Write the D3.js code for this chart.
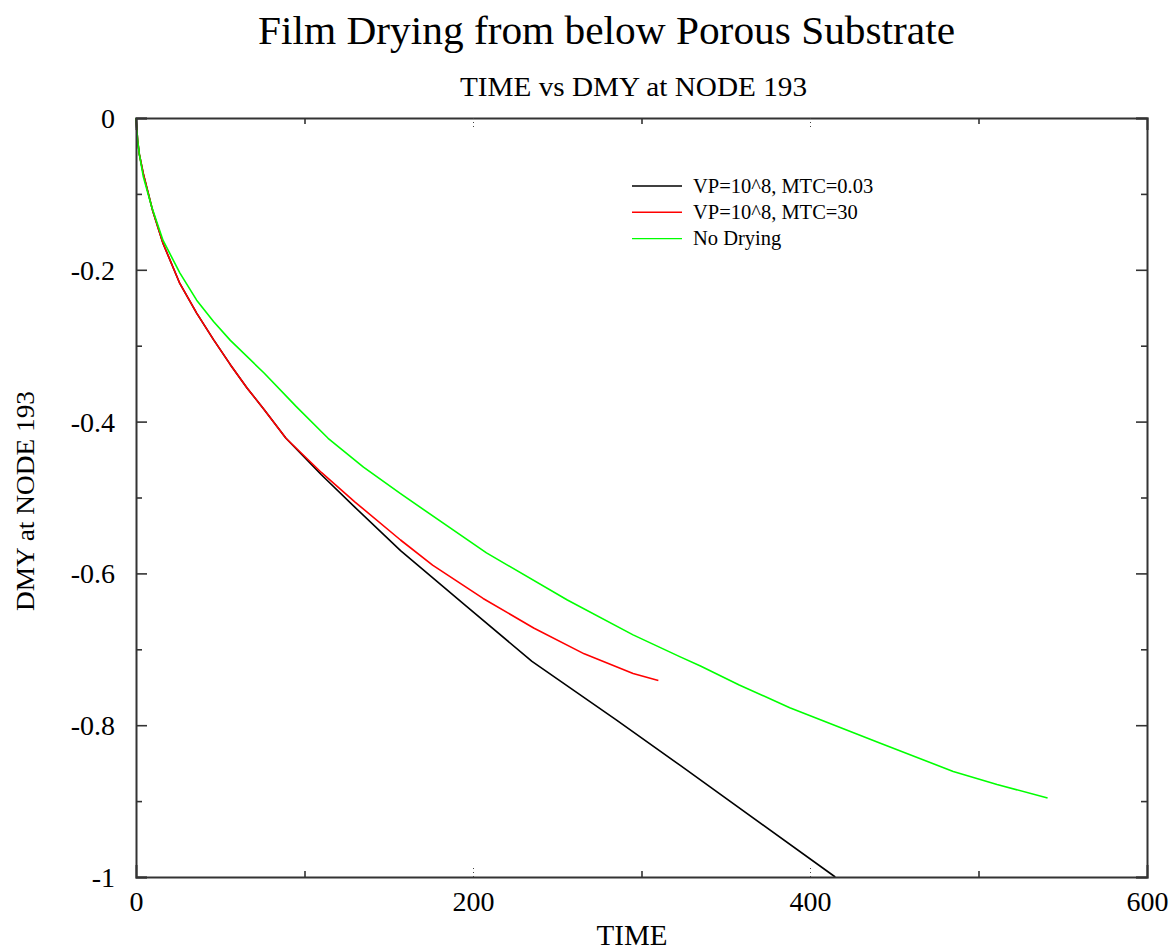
<!DOCTYPE html>
<html>
<head>
<meta charset="utf-8">
<script src="https://cdn.jsdelivr.net/npm/d3@7"></script>
<style>
  html, body { margin: 0; padding: 0; background: #fff; }
  svg { display: block; }
  text { font-family: "Liberation Serif", "Times New Roman", serif; fill: #000; }
</style>
</head>
<body>
<svg id="chart" width="1172" height="950"></svg>
<script>
// Time series of DMY at node 193 for three drying cases
const timeA = [0, 1, 2, 4.3, 10, 16, 26, 36, 46, 56, 66, 76, 89, 110, 130, 157, 196, 235, 285, 323, 415];
const dmyA  = [0, -0.03, -0.048, -0.073, -0.123, -0.165, -0.218, -0.257, -0.292, -0.325, -0.356, -0.384, -0.422, -0.470, -0.513, -0.570, -0.643, -0.716, -0.793, -0.853, -1.0];

const timeB = [0, 1, 2, 4.3, 10, 16, 26, 36, 46, 56, 66, 76, 89, 110, 130, 157, 176, 206, 236, 266, 295, 310];
const dmyB  = [0, -0.03, -0.048, -0.073, -0.123, -0.165, -0.218, -0.257, -0.292, -0.325, -0.356, -0.384, -0.422, -0.467, -0.506, -0.556, -0.589, -0.633, -0.672, -0.706, -0.732, -0.741];

const timeC = [0, 1, 2, 4.3, 9.3, 16, 26, 36, 46, 56, 76, 95, 114, 135, 157, 208, 256, 295, 323, 335, 358, 388, 441, 485, 511, 541];
const dmyC  = [0, -0.03, -0.048, -0.077, -0.117, -0.161, -0.204, -0.240, -0.268, -0.293, -0.336, -0.380, -0.422, -0.460, -0.495, -0.573, -0.635, -0.681, -0.710, -0.722, -0.747, -0.777, -0.823, -0.861, -0.878, -0.896];

const seriesNames  = ["VP=10^8, MTC=0.03", "VP=10^8, MTC=30", "No Drying"];
const seriesColors = ["#000000", "#ff0000", "#00ff00"];

const xMajorTicks  = [0, 200, 400, 600];
const xTickLabels  = ["0", "200", "400", "600"];
const xMinorTicks  = [100, 300, 500];
const yMajorTicks  = [0, -0.2, -0.4, -0.6, -0.8, -1];
const yTickLabels  = ["0", "-0.2", "-0.4", "-0.6", "-0.8", "-1"];
const yMinorTicks  = [-0.1, -0.3, -0.5, -0.7, -0.9];

const series = [
  { name: seriesNames[0], color: seriesColors[0], pts: timeA.map((t, i) => [t, dmyA[i]]) },
  { name: seriesNames[1], color: seriesColors[1], pts: timeB.map((t, i) => [t, dmyB[i]]) },
  { name: seriesNames[2], color: seriesColors[2], pts: timeC.map((t, i) => [t, dmyC[i]]) }
];

const svg = d3.select("#chart");
const plotLeft = 136, plotRight = 1147, plotTop = 118, plotBottom = 877;

const x = d3.scaleLinear().domain([0, 600]).range([plotLeft, plotRight]);
const y = d3.scaleLinear().domain([-1, 0]).range([plotBottom, plotTop]);

const axisColor = "#333";
const fontStack = "Liberation Serif, Times New Roman, serif";

// Titles
svg.append("text")
  .attr("x", 258).attr("y", 44)
  .attr("font-size", 40)
  .attr("textLength", 697).attr("lengthAdjust", "spacingAndGlyphs")
  .text("Film Drying from below Porous Substrate");

svg.append("text")
  .attr("x", 460).attr("y", 96)
  .attr("font-size", 27)
  .attr("textLength", 347).attr("lengthAdjust", "spacingAndGlyphs")
  .text("TIME vs DMY at NODE 193");

// Curves
const line = d3.line().x(d => x(d[0])).y(d => y(d[1]));
const plot = svg.append("g");
series.forEach(s => {
  plot.append("path")
    .datum(s.pts)
    .attr("d", line)
    .attr("fill", "none")
    .attr("stroke", s.color)
    .attr("stroke-width", 1.6)
    .attr("stroke-linejoin", "round");
});

// Axes
function styleAxis(g) {
  g.select(".domain").attr("stroke", axisColor).attr("stroke-width", 2);
  g.selectAll(".tick line").attr("stroke", axisColor).attr("stroke-width", 1.6);
  g.selectAll(".tick text").attr("fill", "#000").attr("font-size", 28)
    .attr("font-family", fontStack);
}

// left: labelled major ticks, inward
svg.append("g").attr("transform", `translate(${plotLeft},0)`)
  .call(d3.axisLeft(y).tickValues(yMajorTicks).tickSize(-11).tickPadding(21)
    .tickFormat((d, i) => yTickLabels[i]))
  .call(styleAxis)
  .call(g => g.selectAll(".tick text").attr("dy", "0.34em"));
svg.append("g").attr("transform", `translate(${plotLeft},0)`)
  .call(d3.axisLeft(y).tickValues(yMinorTicks).tickSize(-6).tickFormat(""))
  .call(styleAxis).call(g => g.select(".domain").remove());

// right
svg.append("g").attr("transform", `translate(${plotRight},0)`)
  .call(d3.axisRight(y).tickValues(yMajorTicks).tickSize(-11).tickFormat(""))
  .call(styleAxis);
svg.append("g").attr("transform", `translate(${plotRight},0)`)
  .call(d3.axisRight(y).tickValues(yMinorTicks).tickSize(-6).tickFormat(""))
  .call(styleAxis).call(g => g.select(".domain").remove());

// bottom: labelled, major ticks dotted
svg.append("g").attr("transform", `translate(0,${plotBottom})`)
  .call(d3.axisBottom(x).tickValues(xMajorTicks).tickSize(-12).tickPadding(14)
    .tickFormat((d, i) => xTickLabels[i]))
  .call(styleAxis)
  .call(g => g.selectAll(".tick text").attr("dy", "0.71em"))
  .call(g => g.selectAll(".tick line")
    .attr("stroke", d => (d === 0 || d === 600) ? "none" : "#444")
    .attr("stroke-width", 1)
    .attr("stroke-dasharray", "1,3"));
svg.append("g").attr("transform", `translate(0,${plotBottom})`)
  .call(d3.axisBottom(x).tickValues(xMinorTicks).tickSize(-6).tickFormat(""))
  .call(styleAxis).call(g => g.select(".domain").remove());

// top
svg.append("g").attr("transform", `translate(0,${plotTop})`)
  .call(d3.axisTop(x).tickValues(xMajorTicks).tickSize(-12).tickFormat(""))
  .call(styleAxis)
  .call(g => g.selectAll(".tick line")
    .attr("stroke", d => (d === 0 || d === 600) ? "none" : "#444")
    .attr("stroke-width", 1)
    .attr("stroke-dasharray", "1,3"));
svg.append("g").attr("transform", `translate(0,${plotTop})`)
  .call(d3.axisTop(x).tickValues(xMinorTicks).tickSize(-6).tickFormat(""))
  .call(styleAxis).call(g => g.select(".domain").remove());

// Axis titles
svg.append("text")
  .attr("x", 632).attr("y", 945)
  .attr("text-anchor", "middle")
  .attr("font-size", 29)
  .text("TIME");

svg.append("text")
  .attr("transform", "translate(34,501) rotate(-90)")
  .attr("text-anchor", "middle")
  .attr("font-size", 26)
  .attr("textLength", 220).attr("lengthAdjust", "spacingAndGlyphs")
  .text("DMY at NODE 193");

// Legend
const legend = svg.append("g").attr("transform", "translate(632,186)");
series.forEach((s, i) => {
  const row = legend.append("g").attr("transform", `translate(0,${i * 26.3})`);
  row.append("line").attr("x1", 0).attr("x2", 50).attr("y1", 0).attr("y2", 0)
    .attr("stroke", s.color).attr("stroke-width", 1.4);
  row.append("text").attr("x", 61).attr("y", 0).attr("dy", "0.33em")
    .attr("font-size", 20.5).text(s.name);
});
</script>
</body>
</html>
